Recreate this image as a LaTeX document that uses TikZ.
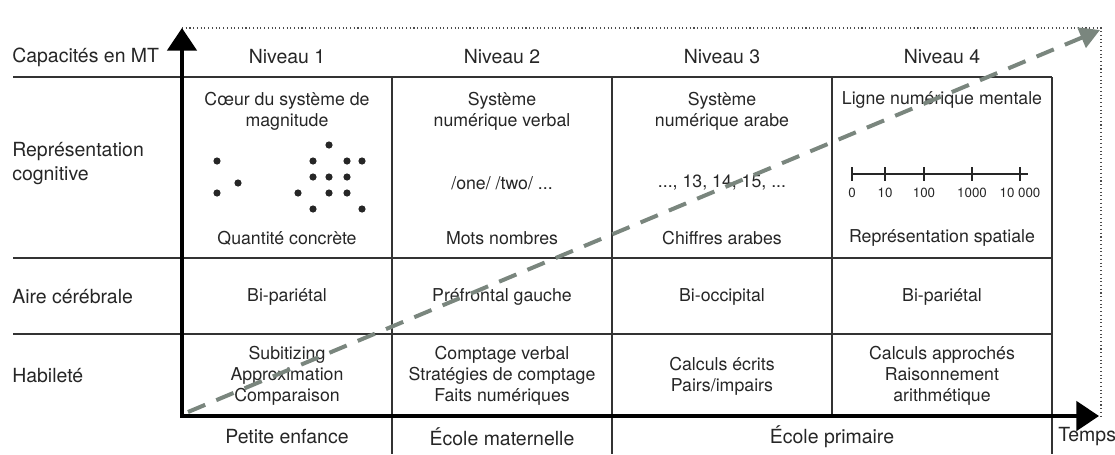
\documentclass[tikz,border=0pt]{standalone}
\usepackage{fontspec}
\setmainfont{TeX Gyre Heros}
\usetikzlibrary{arrows.meta,positioning}
\definecolor{dashgray}{RGB}{122,134,126}

\begin{document}
\begin{tikzpicture}[x=0.75pt,y=-0.75pt,
    head node/.style={text=black!85,font=\fontsize{14.6}{17.5}\selectfont},
    side node/.style={anchor=west,align=left,inner sep=0pt,text=black!85,font=\fontsize{14.6}{18}\selectfont},
    cell node/.style={align=center,text=black!85,font=\fontsize{13.3}{15.7}\selectfont},
    tick label/.style={text=black!85,font=\fontsize{10}{11}\selectfont},
    rule/.style={line width=0.9pt,black!80},
    axis/.style={line width=3pt,line join=miter,>={Triangle[length=17pt,width=22pt]}},
    trend/.style={line width=3pt,dashgray,dash pattern=on 14pt off 9pt,-{Triangle[length=15pt,width=16pt]}},
    frame/.style={dotted,line width=0.8pt,black!70}]

  \useasboundingbox (0,0) rectangle (1115,454);

  %% key points
  \coordinate (Origin) at (182,416);
  \coordinate (YTip) at (182,28);
  \coordinate (XTip) at (1099,416);
  \coordinate (DotCorner) at (1101,28);
  \coordinate (TrendStart) at (188,412);
  \coordinate (TrendEnd) at (1100,30);

  %% grid
  \foreach \y in {77,258,334}
    \draw[rule] (13,\y) -- (1052,\y);
  \foreach \x in {392,612,1052}
    \draw[rule] (\x,77) -- (\x,454);
  \draw[rule] (832,77) -- (832,416);

  \draw[frame] (YTip) -- (DotCorner) -- (DotCorner |- Origin);

  %% header row
  \node[side node] (Capacites) at (12,57) {Capacités en MT};
  \foreach \n/\x in {1/287,2/502,3/722,4/942}
    \node[head node] (Niveau\n) at (\x,57) {Niveau \n};

  %% row labels
  \node[side node] (Representation) at (12,164) {Représentation\\cognitive};
  \node[side node] (Aire) at (12,297) {Aire cérébrale};
  \node[side node] (Habilete) at (12,376) {Habileté};

  %% representation
  \node[cell node] (Coeur) at (287,111) {Cœur du système de\\magnitude};
  \node[cell node] (SysVerbal) at (502,111) {Système\\numérique verbal};
  \node[cell node] (SysArabe) at (722,111) {Système\\numérique arabe};
  \node[cell node] (Ligne) at (942,100) {Ligne numérique mentale};

  \foreach \x/\y in {217/161,238/183,217/193,
                     329/145,313/161,347/161,362/161,
                     313/177,329/177,347/177,
                     298/193,329/193,347/193,
                     313/209,362/209}
    \fill[black!85] (\x,\y) circle (2.7pt);

  \node[cell node] (OneTwo) at (502,183) {/one/ /two/ ...};
  \node[cell node] (Thirteen) at (722,183) {..., 13, 14, 15, ...};

  \draw[line width=1.2pt,black!85] (852,174) -- (1028,174);
  \foreach \x/\t in {852/0,885/10,924/100,972/1000,1020/{10 000}} {
    \draw[line width=1.2pt,black!85] (\x,167) -- (\x,181);
    \node[tick label] (Tick\x) at (\x,193) {\t};
  }

  \node[cell node] (Quantite) at (287,238) {Quantité concrète};
  \node[cell node] (Mots) at (502,238) {Mots nombres};
  \node[cell node] (Chiffres) at (722,238) {Chiffres arabes};
  \node[cell node] (Spatiale) at (942,238) {Représentation spatiale};

  %% aire
  \node[cell node] (BiParA) at (287,297) {Bi-pariétal};
  \node[cell node] (Prefrontal) at (502,297) {Préfrontal gauche};
  \node[cell node] (BiOcc) at (722,297) {Bi-occipital};
  \node[cell node] (BiParB) at (942,297) {Bi-pariétal};

  %% habilete
  \node[cell node] (Subitizing) at (287,376) {Subitizing\\Approximation\\Comparaison};
  \node[cell node] (Comptage) at (502,376) {Comptage verbal\\Stratégies de comptage\\Faits numériques};
  \node[cell node] (Ecrits) at (722,376) {Calculs écrits\\Pairs/impairs};
  \node[cell node] (Approches) at (942,376) {Calculs approchés\\Raisonnement\\arithmétique};

  %% time row
  \node[head node] (Petite) at (287,437) {Petite enfance};
  \node[head node] (Maternelle) at (502,437) {École maternelle};
  \node[head node] (Primaire) at (832,437) {École primaire};
  \node[side node] (Temps) at (1058,437) {Temps};

  %% axes and trend
  \draw[axis,<->] (YTip) -- (Origin) -- (XTip);
  \draw[trend] (TrendStart) -- (TrendEnd);

\end{tikzpicture}
\end{document}
